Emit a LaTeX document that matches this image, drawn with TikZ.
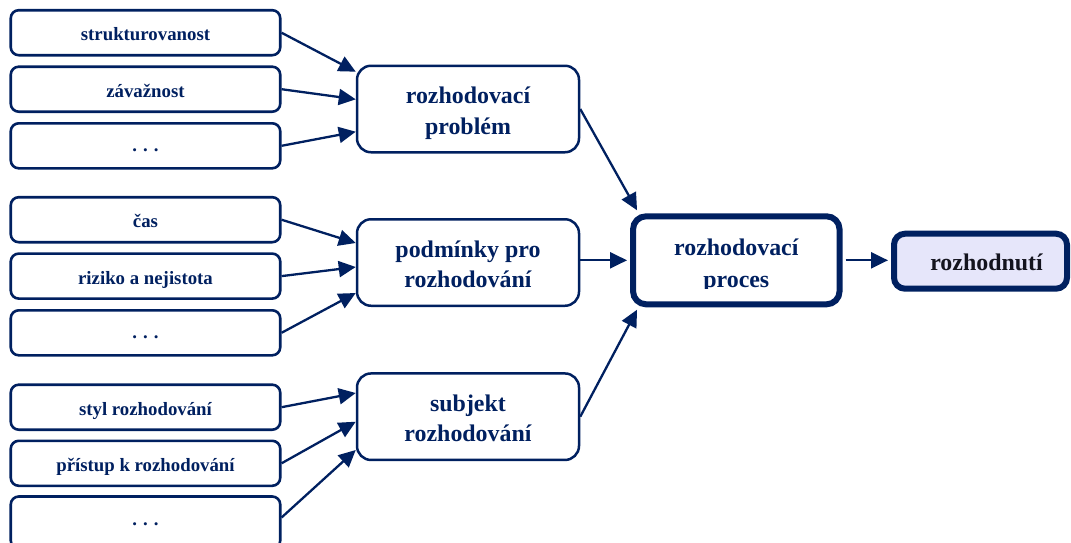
\documentclass[tikz,border=0pt]{standalone}
\usepackage{fontspec}
\setmainfont{Liberation Serif}
\usetikzlibrary{arrows.meta,calc}
\definecolor{navy}{RGB}{0,32,96}
\definecolor{lavender}{RGB}{230,230,250}
\definecolor{inkdark}{RGB}{20,20,30}
\begin{document}
\begin{tikzpicture}[x=1pt,y=-1pt,
  factor/.style={draw=navy,fill=white,line width=2.6pt,rounded corners=8pt,
    minimum width=269.5pt,minimum height=45pt,inner sep=0pt},
  group/.style={draw=navy,fill=white,line width=2.5pt,rounded corners=14pt,
    minimum width=222pt,minimum height=86.5pt,inner sep=0pt},
  process/.style={draw=navy,fill=white,line width=6pt,rounded corners=13pt,
    minimum width=206.5pt,minimum height=88pt,inner sep=0pt},
  result/.style={draw=navy,fill=lavender,line width=6pt,rounded corners=11pt,
    minimum width=173pt,minimum height=55pt,inner sep=0pt},
  small/.style={anchor=base,inner sep=0pt,text=navy,
    font=\fontsize{18.8}{21}\selectfont\bfseries},
  big/.style={anchor=base,inner sep=0pt,text=navy,
    font=\fontsize{23.9}{28}\selectfont\bfseries},
  link/.style={draw=navy,line width=2.3pt,
    -{Triangle[length=17pt,width=16pt]}}
]
\useasboundingbox (0,0) rectangle (1071,542);

% left column: factor boxes
\foreach \n/\y in {f1/32.7,f2/89.2,f3/145.8,f4/219.7,f5/276.1,f6/332.8,f7/407.2,f8/463.3}
  \node[factor] (\n) at (145.5,\y) {};
\node[factor,minimum height=52pt] (f9) at (145.5,522.5) {};

\node[small] (t1) at ($(f1.center)+(0,8)$) {strukturovanost};
\node[small] (t2) at ($(f2.center)+(0,8)$) {závažnost};
\node[small] (t3) at ($(f3.center)+(0,6)$) {.\hspace{6pt}.\hspace{6pt}.};
\node[small] (t4) at ($(f4.center)+(0,8)$) {čas};
\node[small] (t5) at ($(f5.center)+(0,8)$) {riziko a nejistota};
\node[small] (t6) at ($(f6.center)+(0,6)$) {.\hspace{6pt}.\hspace{6pt}.};
\node[small] (t7) at ($(f7.center)+(0,8)$) {styl rozhodování};
\node[small] (t8) at ($(f8.center)+(0,8)$) {přístup k rozhodování};
\node[small] (t9) at ($(f9.center)+(0,3)$) {.\hspace{6pt}.\hspace{6pt}.};

% middle column: grouping boxes
\node[group] (A) at (468,109) {};
\node[group] (B) at (468,262.5) {};
\node[group] (C) at (468,416.7) {};
\node[big] (a1) at ($(A.center)+(0,-5.5)$) {rozhodovací};
\node[big] (a2) at ($(A.center)+(0,25)$) {problém};
\node[big] (b1) at ($(B.center)+(0,-5.5)$) {podmínky pro};
\node[big] (b2) at ($(B.center)+(0,25)$) {rozhodování};
\node[big] (c1) at ($(C.center)+(0,-5.5)$) {subjekt};
\node[big] (c2) at ($(C.center)+(0,25)$) {rozhodování};

% decision process and its outcome
\node[process] (P) at (736.3,260.3) {};
\node[big] (p1) at ($(P.center)+(0,-5.3)$) {rozhodovací};
\begin{scope}
  \clip (640,262) rectangle (830,288.5);
  \node[big] (p2) at ($(P.center)+(0,27)$) {proces};
\end{scope}
\node[result] (D) at (980.5,261.2) {};
\node[big,text=inkdark] (d1) at (986.5,270) {rozhodnutí};

% connectors: factors into groups
\draw[link] (f1.east) -- ($(A.west)+(0,-37.3)$);
\draw[link] (f2.east) -- ($(A.west)+(0,-9.7)$);
\draw[link] (f3.east) -- ($(A.west)+(0,22.7)$);
\draw[link] (f4.east) -- ($(B.west)+(0,-19.5)$);
\draw[link] (f5.east) -- ($(B.west)+(0,4.5)$);
\draw[link] (f6.east) -- ($(B.west)+(0,30.5)$);
\draw[link] (f7.east) -- ($(C.west)+(0,-23.7)$);
\draw[link] (f8.east) -- ($(C.west)+(0,5)$);
\draw[link] ($(f9.east)+(0,-5)$) -- ($(C.west)+(0,33.3)$);

% connectors: groups into the process, process into the outcome
\draw[link] (A.east) -- ($(P.north west)+(7,-3)$);
\draw[link] (B.east |- P.west) -- ($(P.west)+(-3,0)$);
\draw[link] (C.east) -- ($(P.south west)+(7,2.4)$);
\draw[link] ($(P.east)+(3,0)$) -- ($(D.west |- P.east)+(-3,0)$);
\end{tikzpicture}
\end{document}
